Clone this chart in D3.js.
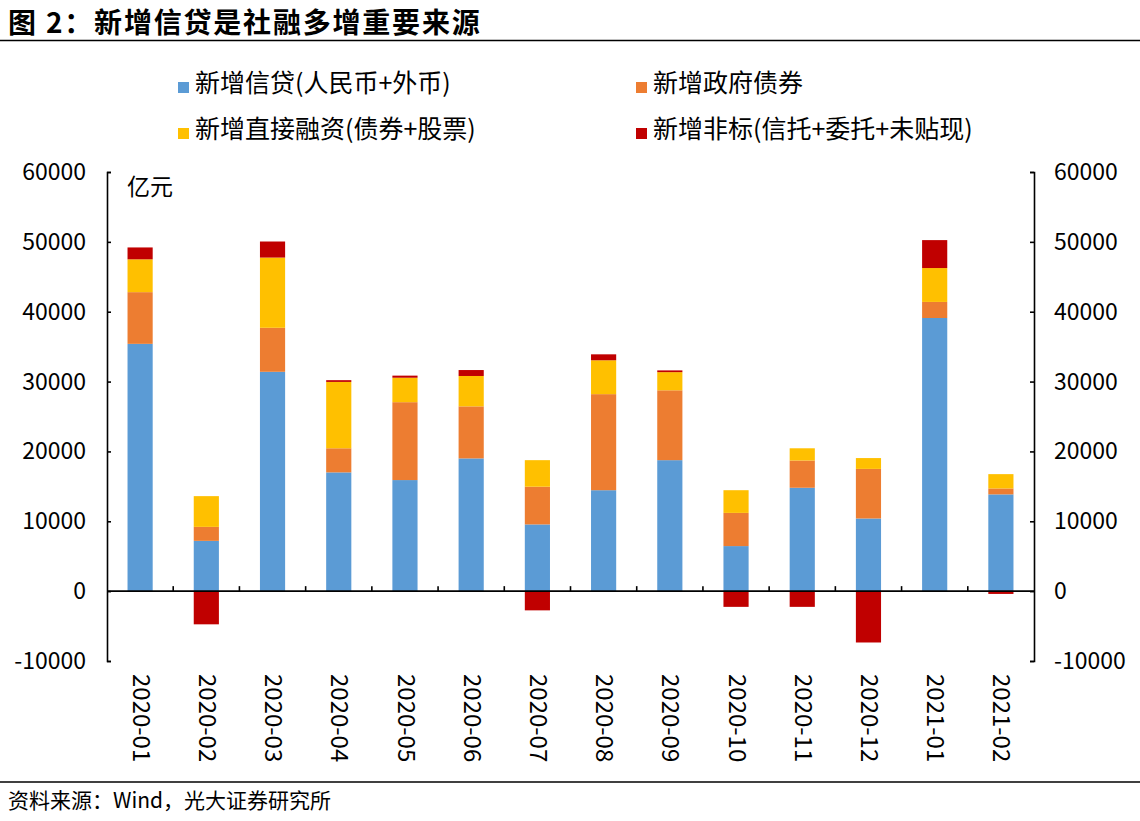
<!DOCTYPE html>
<html>
<head>
<meta charset="utf-8">
<script src="https://cdn.jsdelivr.net/npm/d3@7"></script>
<style>
  body { margin: 0; background: #fff; }
  svg { display: block; font-family: "Noto Sans CJK SC", "Noto Sans", sans-serif; }
</style>
</head>
<body>
<svg id="chart" width="1140" height="821"></svg>
<script>
const months = ["2020-01","2020-02","2020-03","2020-04","2020-05","2020-06","2020-07",
  "2020-08","2020-09","2020-10","2020-11","2020-12","2021-01","2021-02"];

// 亿元
const loans     = [35400, 7200, 31400, 17000, 15900, 19000, 9550, 14450, 18750, 6450, 14800, 10400, 39100, 13850];
const govBonds  = [7400, 2000, 6300, 3450, 11150, 7450, 5400, 13750, 10000, 4750, 3900, 7100, 2300, 850];
const direct    = [4700, 4400, 10050, 9500, 3500, 4350, 3800, 4850, 2600, 3250, 1750, 1550, 4850, 2050];
const nonStd    = [1700, -4750, 2300, 250, 300, 850, -2750, 850, 250, -2250, -2250, -7350, 4000, -400];

const seriesNames = ["新增信贷(人民币+外币)", "新增政府债券", "新增直接融资(债券+股票)", "新增非标(信托+委托+未贴现)"];
const colors = ["#5b9bd5", "#ed7d31", "#ffc000", "#c00000"];
const yTicks = [-10000, 0, 10000, 20000, 30000, 40000, 50000, 60000];

const svg = d3.select("#chart");
const W = 1140;
const mLeft = 107, mRight = 1034, mTop = 172, mBottom = 661;

// title + rules
svg.append("text")
  .attr("x", 8).attr("y", 33)
  .attr("font-size", 28).attr("font-weight", "bold")
  .attr("letter-spacing", 1.8)
  .text("图 2：新增信贷是社融多增重要来源");
svg.append("line").attr("x1", 0).attr("x2", W).attr("y1", 40.5).attr("y2", 40.5)
  .attr("stroke", "#000").attr("stroke-width", 1.5);
svg.append("line").attr("x1", 0).attr("x2", W).attr("y1", 782).attr("y2", 782)
  .attr("stroke", "#000").attr("stroke-width", 1.5);
svg.append("text")
  .attr("x", 8).attr("y", 808)
  .attr("font-size", 21)
  .text("资料来源：Wind，光大证券研究所");

const x = d3.scaleBand().domain(months).range([mLeft, mRight])
  .paddingInner(0.62).paddingOuter(0.31);
const y = d3.scaleLinear().domain([-10000, 60000]).range([mBottom, mTop]);

const data = months.map((m, i) => ({ month: m, s0: loans[i], s1: govBonds[i], s2: direct[i], s3: nonStd[i] }));
const keys = ["s0", "s1", "s2", "s3"];
const stack = d3.stack().keys(keys).offset(d3.stackOffsetDiverging)(data);

svg.append("g")
  .selectAll("g")
  .data(stack)
  .join("g")
    .attr("fill", (d, i) => colors[i])
  .selectAll("rect")
  .data(d => d)
  .join("rect")
    .attr("x", d => x(d.data.month))
    .attr("width", x.bandwidth())
    .attr("y", d => y(Math.max(d[0], d[1])))
    .attr("height", d => Math.abs(y(d[0]) - y(d[1])));

// axes
const leftAxis = svg.append("g")
  .attr("transform", `translate(${mLeft},0)`)
  .call(d3.axisRight(y).tickValues(yTicks).tickSize(4).tickSizeOuter(4).tickFormat(""));
const rightAxis = svg.append("g")
  .attr("transform", `translate(${mRight},0)`)
  .call(d3.axisLeft(y).tickValues(yTicks).tickSize(4).tickSizeOuter(4).tickFormat(""));
[leftAxis, rightAxis].forEach(g => {
  g.selectAll("path, line").attr("stroke", "#000").attr("stroke-width", 1.6);
});

svg.append("g")
  .attr("font-size", 23)
  .attr("text-anchor", "end")
  .selectAll("text")
  .data(yTicks)
  .join("text")
    .attr("x", 86)
    .attr("y", d => y(d))
    .attr("dy", "0.35em")
    .text(d => d);
svg.append("g")
  .attr("font-size", 23)
  .attr("text-anchor", "start")
  .selectAll("text")
  .data(yTicks)
  .join("text")
    .attr("x", 1054)
    .attr("y", d => y(d))
    .attr("dy", "0.35em")
    .text(d => d);

// category axis at zero
const bounds = d3.range(1, months.length).map(i => mLeft + (mRight - mLeft) / months.length * i);
const xg = svg.append("g");
xg.append("line")
  .attr("x1", mLeft).attr("x2", mRight)
  .attr("y1", y(0)).attr("y2", y(0))
  .attr("stroke", "#000").attr("stroke-width", 1.6);
xg.selectAll("line.tick")
  .data(bounds)
  .join("line")
    .attr("class", "tick")
    .attr("x1", d => d).attr("x2", d => d)
    .attr("y1", y(0)).attr("y2", y(0) - 5)
    .attr("stroke", "#000").attr("stroke-width", 1.6);

svg.append("g")
  .attr("font-size", 24)
  .selectAll("text")
  .data(months)
  .join("text")
    .attr("transform", d => `translate(${x(d) + x.bandwidth() / 2 + 1},674) rotate(90)`)
    .attr("dy", "0.35em")
    .text(d => d);

svg.append("text")
  .attr("x", 127).attr("y", 195)
  .attr("font-size", 23)
  .text("亿元");

// legend
const legendPos = [[178, 92], [636, 92], [178, 138], [636, 138]];
const lg = svg.append("g")
  .selectAll("g")
  .data(seriesNames)
  .join("g")
    .attr("transform", (d, i) => `translate(${legendPos[i][0]},${legendPos[i][1]})`);
lg.append("rect")
  .attr("x", 0).attr("y", -10).attr("width", 11).attr("height", 11)
  .attr("fill", (d, i) => colors[i]);
lg.append("text")
  .attr("x", 17)
  .attr("font-size", 25)
  .text(d => d);
</script>
</body>
</html>
